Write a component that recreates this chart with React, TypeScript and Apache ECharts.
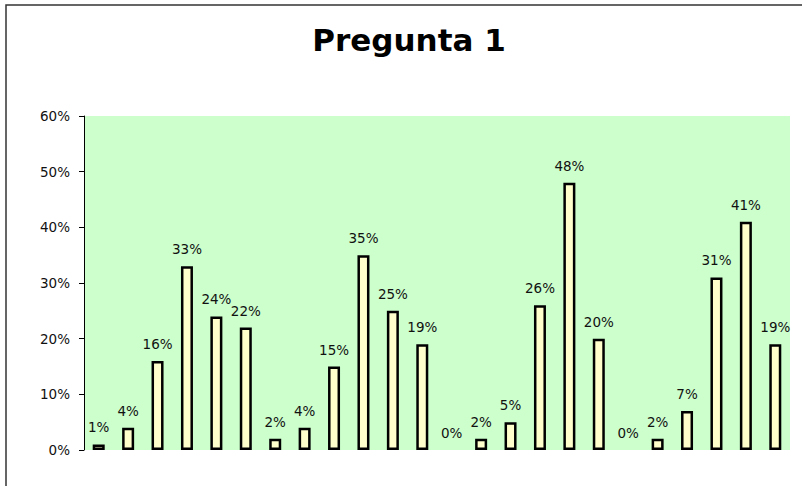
import React, { useEffect, useRef } from "react";
import * as echarts from "echarts";

// Percentages per answer, four blocks of six answers each
const categories: string[] = [
  "A1", "A2", "A3", "A4", "A5", "A6",
  "B1", "B2", "B3", "B4", "B5", "B6",
  "C1", "C2", "C3", "C4", "C5", "C6",
  "D1", "D2", "D3", "D4", "D5", "D6",
];
const values: number[] = [
  1, 4, 16, 33, 24, 22,
  2, 4, 15, 35, 25, 19,
  0, 2, 5, 26, 48, 20,
  0, 2, 7, 31, 41, 19,
];
const yTicks = { min: 0, max: 60, interval: 10 };
const titleText = "Pregunta 1";

const LABEL_FONT = "DejaVu Sans";

export default function App() {
  const ref = useRef<HTMLDivElement>(null);

  useEffect(() => {
    document.body.style.margin = "0";
    if (!ref.current) return;
    const chart = echarts.init(ref.current, undefined, { renderer: "svg" });

    // zero-height bars draw no outline
    const barData = values.map((v) =>
      v === 0 ? { value: v, itemStyle: { borderWidth: 0 } } : v
    );

    chart.setOption({
      animation: false,
      backgroundColor: "#ffffff",
      graphic: [
        {
          type: "rect",
          shape: { x: 6, y: 5, width: 900, height: 600 },
          style: { fill: "none", stroke: "#333333", lineWidth: 1.5 },
          silent: true,
        },
        {
          type: "text",
          x: 409,
          y: 40,
          style: {
            text: titleText,
            font: `bold 31px ${LABEL_FONT}`,
            fill: "#000000",
            textAlign: "center",
            textVerticalAlign: "middle",
          },
        },
      ],
      grid: {
        left: 84,
        right: 12,
        top: 116,
        bottom: 36,
        show: true,
        backgroundColor: "#CCFFCC",
        borderWidth: 0,
      },
      xAxis: {
        type: "category",
        data: categories,
        axisLine: { show: false },
        axisTick: { show: false },
        axisLabel: { show: false },
      },
      yAxis: {
        type: "value",
        min: yTicks.min,
        max: yTicks.max,
        interval: yTicks.interval,
        axisLine: { show: true, lineStyle: { color: "#000000", width: 1 } },
        axisTick: { show: true, length: 5, lineStyle: { color: "#000000" } },
        splitLine: { show: false },
        axisLabel: {
          formatter: "{value}%",
          color: "#111111",
          fontFamily: LABEL_FONT,
          fontSize: 13.5,
          margin: 14,
        },
      },
      series: [
        {
          type: "bar",
          data: barData,
          barWidth: 12,
          itemStyle: {
            color: "#FFFFCC",
            borderColor: "#000000",
            borderWidth: 2.5,
          },
          label: {
            show: true,
            position: "top",
            distance: 10,
            formatter: "{c}%",
            color: "#111111",
            fontFamily: LABEL_FONT,
            fontSize: 13.5,
          },
        },
      ],
    });
    return () => chart.dispose();
  }, []);

  return <div ref={ref} style={{ width: 802, height: 486 }} />;
}
